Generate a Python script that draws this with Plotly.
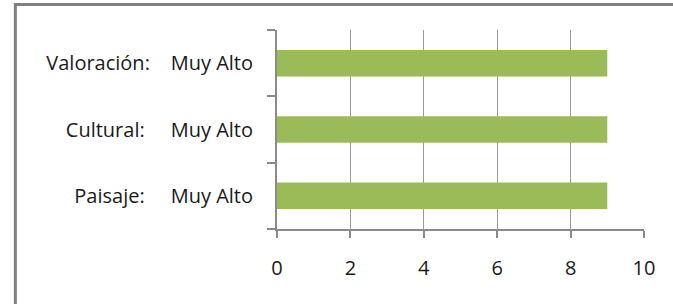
import plotly.graph_objects as go

categories = ["Paisaje:", "Cultural:", "Valoración:"]
levels = ["Muy Alto", "Muy Alto", "Muy Alto"]
values = [9, 9, 9]
gaps = [5, 5, 4]
x_ticks = [0, 2, 4, 6, 8, 10]

NB = "\u00a0"
ticktext = [c + NB * g + l for c, g, l in zip(categories, gaps, levels)]

W, H = 673, 304
ml, mr, mt, mb = 276.5, 29, 30, 75
pw, ph = W - ml - mr, H - mt - mb

def px2x(px):
    return (px - ml) / pw

def px2y(py):
    return (H - mb - py) / ph

fig = go.Figure(go.Bar(
    x=values, y=categories, orientation="h",
    marker=dict(color="#9BBB59", line=dict(width=0)),
    hoverinfo="skip",
))

font = dict(family="Open Sans", size=20, color="#1a1a1a")

fig.update_layout(
    width=W, height=H,
    margin=dict(l=ml, r=mr, t=mt, b=mb, pad=0),
    paper_bgcolor="white", plot_bgcolor="white",
    showlegend=False,
    bargap=0.6,
    font=font,
    xaxis=dict(
        range=[0, 10], tickvals=x_ticks, ticktext=[str(v) for v in x_ticks],
        showgrid=True, gridcolor="#9a9a9a", gridwidth=1,
        showline=True, linecolor="#8a8a8a", linewidth=2,
        ticks="outside", ticklen=7, tickcolor="#8a8a8a", tickwidth=2,
        zeroline=False, tickfont=font, ticklabelstandoff=13,
    ),
    yaxis=dict(
        categoryorder="array", categoryarray=categories,
        tickvals=categories, ticktext=ticktext,
        showgrid=False, showline=True, linecolor="#8a8a8a", linewidth=2,
        ticks="outside", ticklen=8, tickcolor="#8a8a8a", tickwidth=2,
        tickson="boundaries", zeroline=False, tickfont=font,
        ticklabelstandoff=18,
    ),
    shapes=[dict(
        type="rect", xref="paper", yref="paper",
        x0=px2x(14.5), x1=px2x(W + 20), y0=px2y(H + 20), y1=px2y(4.5),
        line=dict(color="#808080", width=3), fillcolor="rgba(0,0,0,0)",
        layer="above",
    )],
)

fig.write_html(
    "out.html",
    config={"displayModeBar": False, "staticPlot": True},
    post_script="document.body.style.margin='0';document.body.style.overflow='hidden';",
)
